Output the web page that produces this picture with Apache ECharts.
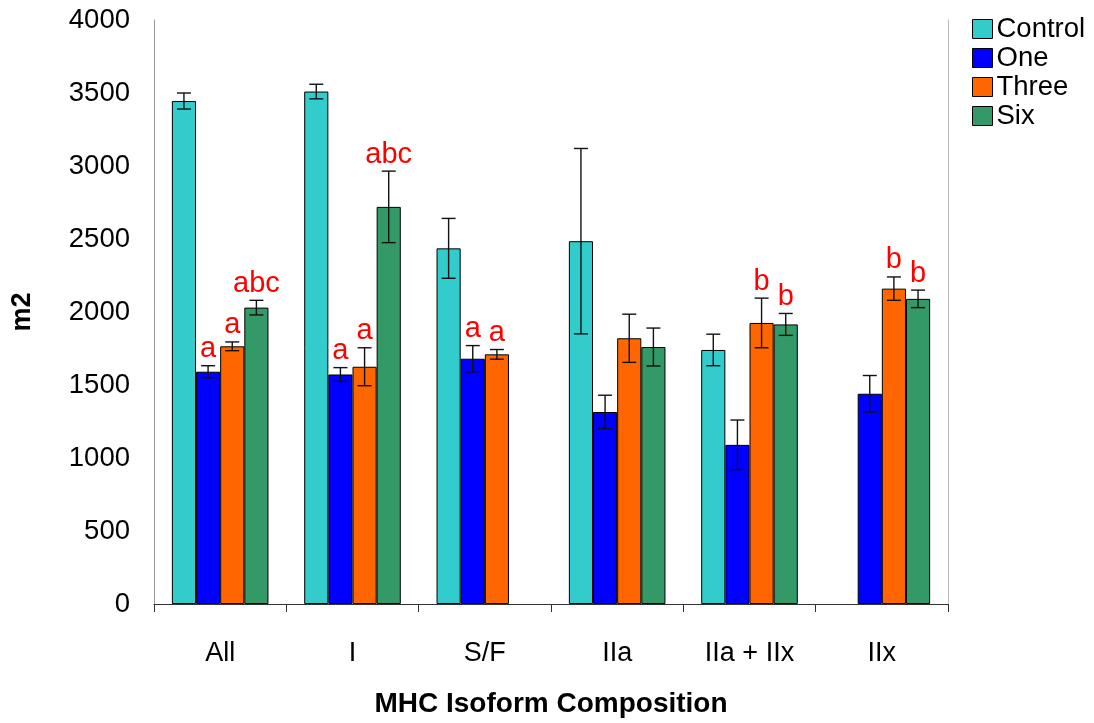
<!DOCTYPE html>
<html>
<head>
<meta charset="utf-8">
<script src="https://cdn.jsdelivr.net/npm/echarts@6/dist/echarts.min.js"></script>
<style>
html,body{margin:0;padding:0;background:#fff;}
#chart{width:1094px;height:723px;}
</style>
</head>
<body>
<div id="chart"></div>
<script>
const categories = ['All', 'I', 'S/F', 'IIa', 'IIa + IIx', 'IIx'];
const seriesNames = ['Control', 'One', 'Three', 'Six'];
const colors = ['#33CCCC', '#0000FF', '#FF6600', '#339966'];

const controlMean = [3445, 3510, 2436, 2485, 1740, null];
const oneMean     = [1591, 1572, 1680, 1315, 1090, 1440];
const threeMean   = [1765, 1625, 1710, 1820, 1925, 2160];
const sixMean     = [2030, 2720, null, 1760, 1915, 2090];

const controlErr = [55, 50, 205, 635, 108, null];
const oneErr     = [41, 47, 90, 115, 170, 125];
const threeErr   = [30, 130, 33, 165, 170, 80];
const sixErr     = [50, 245, null, 130, 75, 60];

const controlLetters = ['', '', '', '', '', ''];
const oneLetters     = ['a', 'a', 'a', '', '', ''];
const threeLetters   = ['a', 'a', 'a', '', 'b', 'b'];
const sixLetters     = ['abc', 'abc', '', '', 'b', 'b'];

const yTicks = [0, 500, 1000, 1500, 2000, 2500, 3000, 3500, 4000];

const means = [controlMean, oneMean, threeMean, sixMean];
const errs = [controlErr, oneErr, threeErr, sixErr];
const letters = [controlLetters, oneLetters, threeLetters, sixLetters];

const FONT = '"Liberation Sans", Arial, sans-serif';
const CAT_GAP = 0.27;

const errData = [];
for (let s = 0; s < 4; s++) {
  for (let c = 0; c < categories.length; c++) {
    if (means[s][c] != null) errData.push([c, means[s][c], errs[s][c], s]);
  }
}

const barSeries = seriesNames.map((name, i) => ({
  name: name,
  type: 'bar',
  data: means[i],
  barGap: '0%',
  barCategoryGap: (CAT_GAP * 100) + '%',
  itemStyle: { color: colors[i], borderColor: '#000', borderWidth: 1 },
  z: 2
}));

const errSeries = {
  type: 'custom',
  data: errData,
  z: 5,
  silent: true,
  renderItem: function (params, api) {
    const c = api.value(0), m = api.value(1), e = api.value(2), s = api.value(3);
    const catW = api.size([1, 0])[0];
    const groupW = catW * (1 - CAT_GAP);
    const barW = groupW / 4;
    const cx = api.coord([c, m])[0] - groupW / 2 + barW * (s + 0.5);
    const yT = api.coord([c, m + e])[1];
    const yB = api.coord([c, m - e])[1];
    const cap = 7;
    const st = { stroke: '#111', lineWidth: 1.4 };
    const children = [
      { type: 'line', shape: { x1: cx, y1: yT, x2: cx, y2: yB }, style: st },
      { type: 'line', shape: { x1: cx - cap, y1: yT, x2: cx + cap, y2: yT }, style: st },
      { type: 'line', shape: { x1: cx - cap, y1: yB, x2: cx + cap, y2: yB }, style: st }
    ];
    const lab = letters[s][c];
    if (lab) {
      children.push({
        type: 'text',
        style: {
          text: lab, x: cx, y: yT - 2,
          align: 'center', verticalAlign: 'bottom',
          fill: '#FF0000', font: '29px ' + FONT
        }
      });
    }
    return { type: 'group', children: children };
  }
};

const chart = echarts.init(document.getElementById('chart'));
chart.setOption({
  animation: false,
  backgroundColor: '#fff',
  textStyle: { fontFamily: FONT },
  grid: { left: 154, right: 146, top: 20, bottom: 117, containLabel: false },
  legend: {
    data: seriesNames,
    orient: 'vertical',
    left: 967, top: 10,
    itemWidth: 20, itemHeight: 19, itemGap: 1,
    icon: 'rect',
    itemStyle: { borderColor: '#000', borderWidth: 1 },
    textStyle: { fontSize: 27.5, color: '#000', fontFamily: FONT, padding: [0, 0, 0, -1] }
  },
  xAxis: {
    type: 'category',
    data: categories,
    name: 'MHC Isoform Composition',
    nameLocation: 'middle',
    nameGap: 86,
    nameTextStyle: { fontSize: 28, fontWeight: 'bold', color: '#000', fontFamily: FONT },
    axisLine: { lineStyle: { color: '#333', width: 1 } },
    axisTick: { show: true, length: 8, alignWithLabel: false, lineStyle: { color: '#333' } },
    axisLabel: { fontSize: 27, color: '#000', margin: 36, fontFamily: FONT },
    splitLine: { show: false }
  },
  yAxis: [{
    type: 'value',
    min: yTicks[0], max: yTicks[yTicks.length - 1], interval: 500,
    name: 'm2',
    nameLocation: 'middle',
    nameGap: 118,
    nameTextStyle: { fontSize: 27, fontWeight: 'bold', color: '#000', fontFamily: FONT },
    axisLine: { show: true, lineStyle: { color: '#999', width: 1 } },
    axisTick: { show: false },
    axisLabel: { fontSize: 27.5, color: '#000', margin: 24, fontFamily: FONT, formatter: v => String(v) },
    splitLine: { show: false }
  }, {
    type: 'value',
    position: 'right',
    min: 0, max: 4000, interval: 500,
    axisLine: { show: true, lineStyle: { color: '#bbb', width: 1 } },
    axisTick: { show: false },
    axisLabel: { show: false },
    splitLine: { show: false }
  }],
  series: barSeries.concat([errSeries])
});
</script>
</body>
</html>
